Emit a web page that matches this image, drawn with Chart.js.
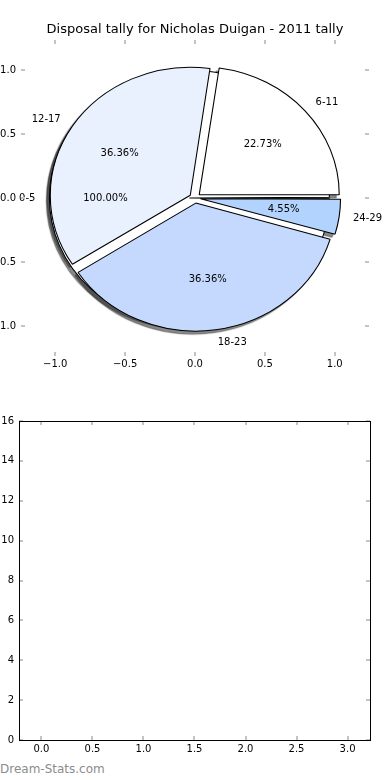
<!DOCTYPE html>
<html>
<head>
<meta charset="utf-8">
<title>Disposal tally</title>
<script src="https://cdn.jsdelivr.net/npm/chart.js@4/dist/chart.umd.min.js"></script>
<style>
    body { margin: 0; background: #fff; width: 390px; height: 780px; position: relative; overflow: hidden; }
    #pieChart { position: absolute; left: 0; top: 0; }
    #emptyChart { position: absolute; left: 0; top: 390px; }
    #watermark { position: absolute; left: 0; top: 761px; font: 12px "DejaVu Sans", sans-serif; line-height: 16px; color: #8c8c8c; }
</style>
</head>
<body>
<canvas id="pieChart" width="390" height="390"></canvas>
<canvas id="emptyChart" width="390" height="370"></canvas>
<div id="watermark">Dream-Stats.com</div>
<script>
// disposals per age group (the 0-5 group came out as a pie of its own, hence 100%)
const ageGroups = ['0-5', '6-11', '12-17', '18-23', '24-29'];
const disposals = [0, 5, 8, 8, 1];
const firstGroup = ['0-5'];
const firstGroupShare = [1];
const sliceColours = ['#ffffff', '#ffffff', '#e9f0fe', '#c5d9ff', '#b3d3ff'];

// axis ticks
const pieTicks = [-1, -0.5, 0, 0.5, 1];
const barXTicks = [0, 0.5, 1, 1.5, 2, 2.5, 3];
const barYTicks = [0, 2, 4, 6, 8, 10, 12, 14, 16];
const barPoints = [];   // second panel is empty

Chart.defaults.font.family = '"DejaVu Sans", sans-serif';
Chart.defaults.font.size = 10;
Chart.defaults.color = '#000';

const PIE_R = 128;              // y pixels per unit radius
const X_STRETCH = 140 / 128;    // axes are not square, pie is an ellipse
const EXPLODE = 0.04 * PIE_R;   // chart.js divides arc offset by 4

function minusFmt(digits) {
    return function(v) { return Number(v).toFixed(digits).replace('-', '\u2212'); };
}

function ellipse(ctx, cx, cy) {
    ctx.translate(cx, cy);
    ctx.scale(X_STRETCH, -1);
    ctx.translate(-cx, -cy);
}

const pieLook = {
    id: 'pieLook',
    afterDatasetsUpdate(chart) {
        // every dataset covers the full radius, explode is a pure shift
        chart.getSortedVisibleDatasetMetas().forEach(function(meta) {
            meta.data.forEach(function(arc) {
                var shift = (arc.options.offset || 0) / 4;
                var grow = shift * (1 - Math.sin(Math.min(Math.PI, arc.circumference)));
                arc.outerRadius = PIE_R - grow;
                arc.innerRadius = 0;
            });
        });
    },
    beforeDatasetsDraw(chart) {
        var ctx = chart.ctx, a = chart.chartArea;
        var cx = (a.left + a.right) / 2, cy = (a.top + a.bottom) / 2;
        var metas = chart.getSortedVisibleDatasetMetas().slice().reverse();
        // shadows only: draw far off canvas, shadow offset brings them back
        ctx.save();
        ctx.translate(-3000, 0);
        ellipse(ctx, cx, cy);
        ctx.shadowColor = 'rgba(40,40,40,0.55)';
        ctx.shadowOffsetX = 3000 - 3;
        ctx.shadowOffsetY = 3;
        ctx.shadowBlur = 1;
        metas.forEach(function(m) { m.data.forEach(function(arc) { arc.draw(ctx); }); });
        ctx.restore();
        ctx.save();
        ellipse(ctx, cx, cy);
    },
    afterDatasetsDraw(chart) {
        var ctx = chart.ctx, a = chart.chartArea;
        ctx.restore();
        var cx = (a.left + a.right) / 2, cy = (a.top + a.bottom) / 2;
        ctx.save();
        ctx.font = '10px "DejaVu Sans"';
        ctx.fillStyle = '#000';
        ctx.textBaseline = 'middle';
        chart.getSortedVisibleDatasetMetas().forEach(function(meta) {
            var ds = chart.data.datasets[meta.index];
            meta.data.forEach(function(arc, i) {
                if (!arc.circumference) return;
                var mid = (arc.startAngle + arc.endAngle) / 2;
                var shift = (arc.options.offset || 0) / 4;
                var ux = Math.cos(mid) * X_STRETCH, uy = -Math.sin(mid);
                var d = shift + 1.1 * PIE_R;
                ctx.textAlign = Math.cos(mid) > 0 ? 'left' : 'right';
                ctx.fillText(ds.sliceLabels[i], cx + ux * d, cy + uy * d);
                d = shift + 0.6 * PIE_R;
                ctx.textAlign = 'center';
                ctx.fillText((ds.data[i] / meta.total * 100).toFixed(2) + '%', cx + ux * d, cy + uy * d);
            });
        });
        ctx.restore();
    }
};

// matplotlib style ticks: short grey marks pointing in, on all four sides
const innerTicks = {
    id: 'innerTicks',
    afterDraw(chart) {
        var ctx = chart.ctx, a = chart.chartArea, x = chart.scales.x, y = chart.scales.y;
        ctx.save();
        ctx.strokeStyle = '#c4c4c4';
        ctx.lineWidth = 2;
        ctx.beginPath();
        x.ticks.forEach(function(t) {
            var p = Math.round(x.getPixelForValue(t.value));
            ctx.moveTo(p, a.top); ctx.lineTo(p, a.top + 4);
            ctx.moveTo(p, a.bottom); ctx.lineTo(p, a.bottom - 4);
        });
        y.ticks.forEach(function(t) {
            var p = Math.round(y.getPixelForValue(t.value));
            ctx.moveTo(a.left, p); ctx.lineTo(a.left + 4, p);
            ctx.moveTo(a.right, p); ctx.lineTo(a.right - 4, p);
        });
        ctx.stroke();
        if (chart.options.plugins.innerTicks && chart.options.plugins.innerTicks.frame) {
            ctx.strokeStyle = '#000';
            ctx.lineWidth = 1;
            ctx.strokeRect(a.left + 0.5, a.top + 0.5, a.right - a.left, a.bottom - a.top);
        }
        ctx.restore();
    }
};

function axis(pos, min, max, ticks, fmt, size, pad) {
    var s = {
        type: 'linear', position: pos, min: min, max: max, offset: false,
        grid: { display: false, drawTicks: false, offset: false },
        border: { display: false },
        ticks: { padding: pad, autoSkip: false, maxRotation: 0, callback: fmt, font: { size: 10 } },
        afterBuildTicks: function(sc) { sc.ticks = ticks.map(function(v) { return { value: v }; }); }
    };
    if (pos === 'left') s.afterFit = function(sc) { sc.width = size; };
    else s.afterFit = function(sc) { sc.height = size; };
    return s;
}

new Chart(document.getElementById('pieChart'), {
    type: 'pie',
    data: {
        labels: ageGroups,
        datasets: [
            { data: disposals, sliceLabels: ageGroups, backgroundColor: sliceColours, borderColor: '#000', borderWidth: 1, offset: EXPLODE * 4 },
            { data: firstGroupShare, sliceLabels: firstGroup, backgroundColor: '#ffffff', borderColor: '#000', borderWidth: 1, offset: EXPLODE * 4 }
        ]
    },
    options: {
        responsive: false,
        animation: false,
        rotation: 90,
        radius: PIE_R,
        layout: { padding: { top: 0, right: 21, bottom: 0, left: 0 } },
        plugins: {
            legend: { display: false },
            tooltip: { enabled: false },
            title: {
                display: true,
                fullSize: false,
                text: 'Disposal tally for Nicholas Duigan - 2011 tally',
                color: '#000',
                font: { size: 13, weight: 'normal' },
                padding: { top: 22.2, bottom: 2.2 }
            }
        },
        scales: {
            x: axis('bottom', -1.245, 1.245, pieTicks, minusFmt(1), 34, 2),
            y: axis('left', -1.235, 1.235, pieTicks, minusFmt(1), 21, 5)
        }
    },
    plugins: [pieLook, innerTicks]
});

new Chart(document.getElementById('emptyChart'), {
    type: 'bar',
    data: { datasets: [{ data: barPoints, backgroundColor: '#c5d9ff' }] },
    options: {
        responsive: false,
        animation: false,
        layout: { padding: { top: 31, right: 20, bottom: 0, left: 0 } },
        plugins: { legend: { display: false }, tooltip: { enabled: false }, innerTicks: { frame: true } },
        scales: {
            x: axis('bottom', -0.22, 3.22, barXTicks, minusFmt(1), 20, 3),
            y: axis('left', 0, 16, barYTicks, minusFmt(0), 19, 5)
        }
    },
    plugins: [innerTicks]
});
</script>
</body>
</html>
